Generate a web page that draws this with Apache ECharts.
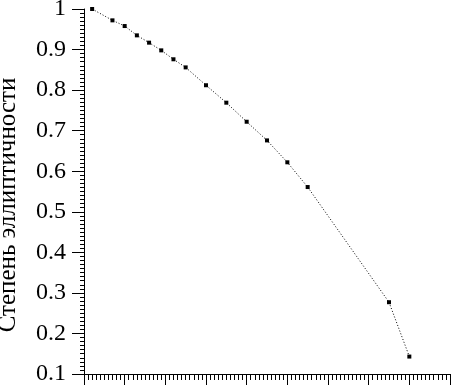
<!DOCTYPE html>
<html>
<head>
<meta charset="utf-8">
<script src="https://cdn.jsdelivr.net/npm/echarts@6/dist/echarts.min.js"></script>
<style>
html,body{margin:0;padding:0;background:#fff;}
#chart{width:451px;height:387px;}
</style>
</head>
<body>
<div id="chart"></div>
<script>
// Data
var xValues = [0.2, 0.7, 1.0, 1.3, 1.6, 1.9, 2.2, 2.5, 3.0, 3.5, 4.0, 4.5, 5.0, 5.5, 7.5, 8.0];
var yValues = [1.0, 0.972, 0.958, 0.935, 0.917, 0.898, 0.876, 0.856, 0.812, 0.769, 0.722, 0.676, 0.622, 0.561, 0.277, 0.143];
var yAxisName = 'Степень эллиптичности';
var xRange = [0, 9];
var yRange = [0.1, 1.0];

var points = xValues.map(function (x, i) { return [x, yValues[i]]; });

var chart = echarts.init(document.getElementById('chart'), null, {renderer: 'canvas'});
var serif = 'Liberation Serif';
chart.setOption({
  animation: false,
  backgroundColor: '#fff',
  grid: {left: 84, right: 1, top: 9, bottom: 13, containLabel: false, outerBoundsMode: 'none'},
  graphic: [{
    type: 'text',
    x: 8, y: 205,
    rotation: Math.PI / 2,
    style: {
      text: yAxisName,
      fill: '#000',
      fontFamily: serif,
      fontSize: 25,
      align: 'center',
      verticalAlign: 'middle'
    },
    silent: true
  }],
  xAxis: {
    type: 'value',
    min: xRange[0], max: xRange[1], interval: 1,
    axisLine: {show: true, lineStyle: {color: '#000', width: 1}},
    axisTick: {show: true, inside: false, length: 11, lineStyle: {color: '#000', width: 1}},
    minorTick: {show: true, splitNumber: 10, length: 6, lineStyle: {color: '#000', width: 1}},
    axisLabel: {show: false},
    splitLine: {show: false},
    minorSplitLine: {show: false}
  },
  yAxis: {
    type: 'value',
    min: yRange[0], max: yRange[1], interval: 0.1,
    axisLine: {show: true, lineStyle: {color: '#000', width: 1}},
    axisTick: {show: true, inside: false, length: 12, lineStyle: {color: '#000', width: 1}},
    minorTick: {show: true, splitNumber: 10, length: 4, lineStyle: {color: '#000', width: 1}},
    axisLabel: {
      margin: 18,
      fontFamily: serif, fontSize: 24, color: '#000',
      formatter: function (v) {
        var r = Math.round(v * 10) / 10;
        return r === 1 ? '1' : r.toFixed(1);
      }
    },
    splitLine: {show: false},
    minorSplitLine: {show: false}
  },
  series: [{
    type: 'line',
    data: points,
    symbol: 'rect',
    symbolSize: 4,
    itemStyle: {color: '#000'},
    lineStyle: {color: '#000', width: 1, type: [1, 2]},
    silent: true
  }]
});
</script>
</body>
</html>
